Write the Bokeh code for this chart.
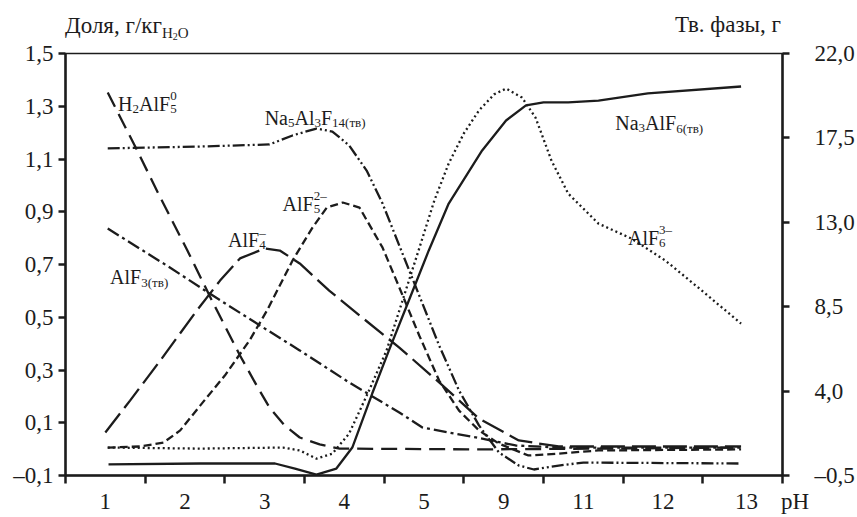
from bokeh.plotting import figure
from bokeh.models import Range1d, LinearAxis, FixedTicker, Label, Div
from bokeh.layouts import column
from bokeh.embed import file_html
from bokeh.resources import INLINE

# ---------------- data ----------------
ph_labels = ["1", "2", "3", "4", "5", "9", "11", "12", "13"]
x_axis_title = "pH"
left_title = "Доля, г/кг"
left_title_sub = ("H", "2", "O")
right_title = "Тв. фазы, г"
left_ticks = [-0.1, 0.1, 0.3, 0.5, 0.7, 0.9, 1.1, 1.3, 1.5]
left_tick_labels = ["–0,1", "0,1", "0,3", "0,5", "0,7", "0,9", "1,1", "1,3", "1,5"]
right_ticks = [-0.5, 4.0, 8.5, 13.0, 17.5, 22.0]
right_tick_labels = ["–0,5", "4,0", "8,5", "13,0", "17,5", "22,0"]

# aqueous species (left axis), x = position of pH label (0 -> "1", 8 -> "13")
h2alf5_x = [0.03, 0.40, 0.69, 1.03, 1.35, 1.69, 1.90, 2.06, 2.25, 2.44, 2.69, 2.94, 4.73, 6.19, 7.98]
h2alf5_y = [1.352, 1.132, 0.954, 0.753, 0.556, 0.355, 0.241, 0.158, 0.090, 0.044, 0.018, 0.002, -0.001, 0.002, 0.006]

alf4_x = [0.0, 0.31, 0.69, 1.15, 1.44, 1.69, 2.0, 2.19, 2.44, 2.81, 3.19, 3.69, 4.19, 4.69, 5.19, 5.69, 7.98]
alf4_y = [0.063, 0.184, 0.336, 0.526, 0.639, 0.723, 0.761, 0.753, 0.704, 0.601, 0.507, 0.385, 0.253, 0.116, 0.033, 0.010, 0.010]

alf5_x = [0.03, 0.44, 0.73, 0.94, 1.19, 1.50, 1.81, 2.03, 2.35, 2.60, 2.78, 2.98, 3.19, 3.48, 3.69,
          3.94, 4.19, 4.44, 4.69, 4.94, 5.31, 5.69, 6.19, 7.98]
alf5_y = [0.006, 0.010, 0.025, 0.071, 0.165, 0.279, 0.412, 0.526, 0.715, 0.840, 0.916, 0.935, 0.916, 0.764, 0.613,
          0.431, 0.260, 0.146, 0.071, 0.021, -0.024, -0.017, -0.005, -0.001]

alf6_x = [0.03, 1.19, 2.23, 2.44, 2.65, 2.85, 3.06, 3.31, 3.53, 3.73, 3.94, 4.13, 4.31, 4.50, 4.69, 4.88,
          5.03, 5.23, 5.40, 5.60, 5.81, 6.19, 6.60, 7.03, 7.44, 7.98]
alf6_y = [0.006, 0.002, 0.006, -0.005, -0.036, -0.017, 0.059, 0.222, 0.374, 0.563, 0.761, 0.943, 1.083, 1.197, 1.284, 1.345,
          1.367, 1.333, 1.257, 1.094, 0.969, 0.855, 0.799, 0.715, 0.613, 0.476]

# solid phases (right axis, g)
na3alf6_x = [0.04, 1.19, 2.13, 2.38, 2.65, 2.90, 3.10, 3.35, 3.56, 3.81, 4.06, 4.31, 4.73, 5.03, 5.28, 5.50, 5.81, 6.19, 6.81, 7.98]
na3alf6_y = [0.09, 0.14, 0.14, -0.13, -0.45, -0.13, 0.99, 3.87, 6.17, 8.83, 11.50, 14.00, 16.83, 18.43, 19.23, 19.39, 19.39, 19.49, 19.87, 20.24]

na5al3f14_x = [0.03, 1.19, 2.06, 2.35, 2.65, 2.85, 3.06, 3.28, 3.48, 3.69, 3.94, 4.19, 4.44, 4.69, 4.94, 5.19, 5.38, 5.69, 6.00, 7.98]
na5al3f14_y = [16.94, 17.04, 17.15, 17.63, 18.00, 17.84, 17.10, 15.76, 14.00, 11.76, 9.10, 6.43, 4.03, 2.17, 0.73, 0.03, -0.18, 0.03, 0.19, 0.14]

alf3_x = [0.03, 0.81, 1.31, 1.94, 2.44, 3.06, 3.69, 3.98, 4.31, 4.65, 5.15, 5.69, 7.98]
alf3_y = [12.67, 10.59, 9.20, 7.50, 6.17, 4.46, 2.86, 2.06, 1.79, 1.53, 1.10, 0.99, 0.99]

# ---------------- figure ----------------
FONT = "Liberation Serif"
INK = "#1c1c1c"
TOP_H = 40

p = figure(width=857, height=517 - TOP_H, output_backend="svg", toolbar_location=None,
           x_range=Range1d(-0.5, 8.5), y_range=Range1d(-0.1, 1.5),
           min_border_left=65, min_border_right=72, min_border_top=53 - TOP_H, min_border_bottom=42,
           background_fill_color="white", border_fill_color="white")
p.extra_y_ranges = {"right": Range1d(-0.5, 22.0)}
p.xgrid.visible = False
p.ygrid.visible = False
p.outline_line_color = INK
p.outline_line_width = 1.5

def style_axis(ax):
    ax.axis_line_color = INK
    ax.axis_line_width = 2.5
    ax.major_tick_line_color = INK
    ax.major_tick_line_width = 2.5
    ax.minor_tick_line_color = INK
    ax.minor_tick_line_width = 2.5
    ax.major_tick_in = 0
    ax.minor_tick_in = 0
    ax.major_label_text_font = FONT
    ax.major_label_text_font_size = "23px"
    ax.major_label_text_color = INK

# bottom axis: labels between the tick marks; the last label carries the axis name "pH"
xt = list(range(len(ph_labels) - 1)) + [8.37]
xl = ph_labels[:-1] + [ph_labels[-1] + "\u2003" + x_axis_title]
xa = p.xaxis[0]
xa.ticker = FixedTicker(ticks=xt, minor_ticks=[i - 0.5 for i in range(len(ph_labels) + 1)])
xa.major_label_overrides = {t: s for t, s in zip(xt, xl)}
style_axis(xa)
xa.major_tick_out = 0
xa.minor_tick_out = 8
xa.major_label_standoff = 5

ya = p.yaxis[0]
ya.ticker = FixedTicker(ticks=left_ticks)
ya.major_label_overrides = {t: s for t, s in zip(left_ticks, left_tick_labels)}
style_axis(ya)
ya.major_tick_out = 7
ya.minor_tick_out = 0
ya.major_label_standoff = 5

ra = LinearAxis(y_range_name="right")
ra.ticker = FixedTicker(ticks=right_ticks)
ra.major_label_overrides = {t: s for t, s in zip(right_ticks, right_tick_labels)}
style_axis(ra)
ra.major_tick_out = 7
ra.minor_tick_out = 0
ra.major_label_standoff = 25
p.add_layout(ra, "right")

LW = 2.3
p.line(h2alf5_x, h2alf5_y, line_color=INK, line_width=LW, line_dash="16 8")
p.line(alf4_x, alf4_y, line_color=INK, line_width=LW, line_dash="24 7")
p.line(alf5_x, alf5_y, line_color=INK, line_width=LW, line_dash="8 4")
p.line(alf6_x, alf6_y, line_color=INK, line_width=LW, line_dash="2 3")
p.line(na3alf6_x, na3alf6_y, line_color=INK, line_width=LW, y_range_name="right")
p.line(na5al3f14_x, na5al3f14_y, line_color=INK, line_width=LW, line_dash="12 3 2 3 2 3", y_range_name="right")
p.line(alf3_x, alf3_y, line_color=INK, line_width=LW, line_dash="13 4 3 4", y_range_name="right")

# ---------------- in-plot formula labels ----------------
W = {'H': .722, 'A': .722, 'l': .278, 'F': .556, 'N': .722, 'a': .444, '(': .333, ')': .333,
     'т': .44, 'в': .47, '–': .5, 'O': .722}

def tw(s, size):
    return sum(W.get(c, .5) for c in s) * size

def label(x, y, text, size, dx=0, dy=0):
    p.add_layout(Label(x=x, y=y, x_offset=dx, y_offset=dy, text=text, text_font=FONT,
                       text_font_size=f"{size}px", text_color=INK,
                       text_baseline="alphabetic", text_align="left"))

def formula(x, y, parts, main=20, small=13):
    cx = 0.0
    last = 0.0
    for text, role in parts:
        if role == "n":
            label(x, y, text, main, cx, 0)
            cx += tw(text, main)
        elif role == "b":
            label(x, y, text, small, cx, -5)
            last = cx
            cx += tw(text, small)
        elif role == "p":
            label(x, y, text, small, last, 8)
            cx = max(cx, last + tw(text, small))

formula(0.16, 1.310, [("H", "n"), ("2", "b"), ("AlF", "n"), ("5", "b"), ("0", "p")])
formula(2.00, 1.257, [("Na", "n"), ("5", "b"), ("Al", "n"), ("3", "b"), ("F", "n"), ("14(тв)", "b")])
formula(2.225, 0.931, [("AlF", "n"), ("5", "b"), ("2–", "p")])
formula(1.54, 0.791, [("AlF", "n"), ("4", "b"), ("–", "p")])
formula(0.06, 0.651, [("AlF", "n"), ("3(тв)", "b")])
formula(6.40, 1.235, [("Na", "n"), ("3", "b"), ("AlF", "n"), ("6(тв)", "b")])
formula(6.56, 0.802, [("AlF", "n"), ("6", "b"), ("3–", "p")])

# ---------------- axis titles above the plot ----------------
h, two, o = left_title_sub
top_html = (
    f'<div style="position:relative;width:857px;height:{TOP_H}px;overflow:visible;font-family:\'{FONT}\';color:{INK};">'
    f'<span style="position:absolute;left:65px;top:14px;font-size:23px;line-height:23px;white-space:nowrap;">'
    f'{left_title}<span style="font-size:15px;vertical-align:-5px;">{h}'
    f'<span style="font-size:10px;vertical-align:-2px;">{two}</span>{o}</span></span>'
    f'<span style="position:absolute;left:675px;top:13px;font-size:23px;line-height:23px;white-space:nowrap;">'
    f'{right_title}</span></div>'
)
top = Div(text=top_html, width=857, height=TOP_H, margin=(0, 0, 0, 0), styles={"overflow": "visible"})

layout = column(top, p, spacing=0)
open("out.html", "w").write(file_html(layout, INLINE))
